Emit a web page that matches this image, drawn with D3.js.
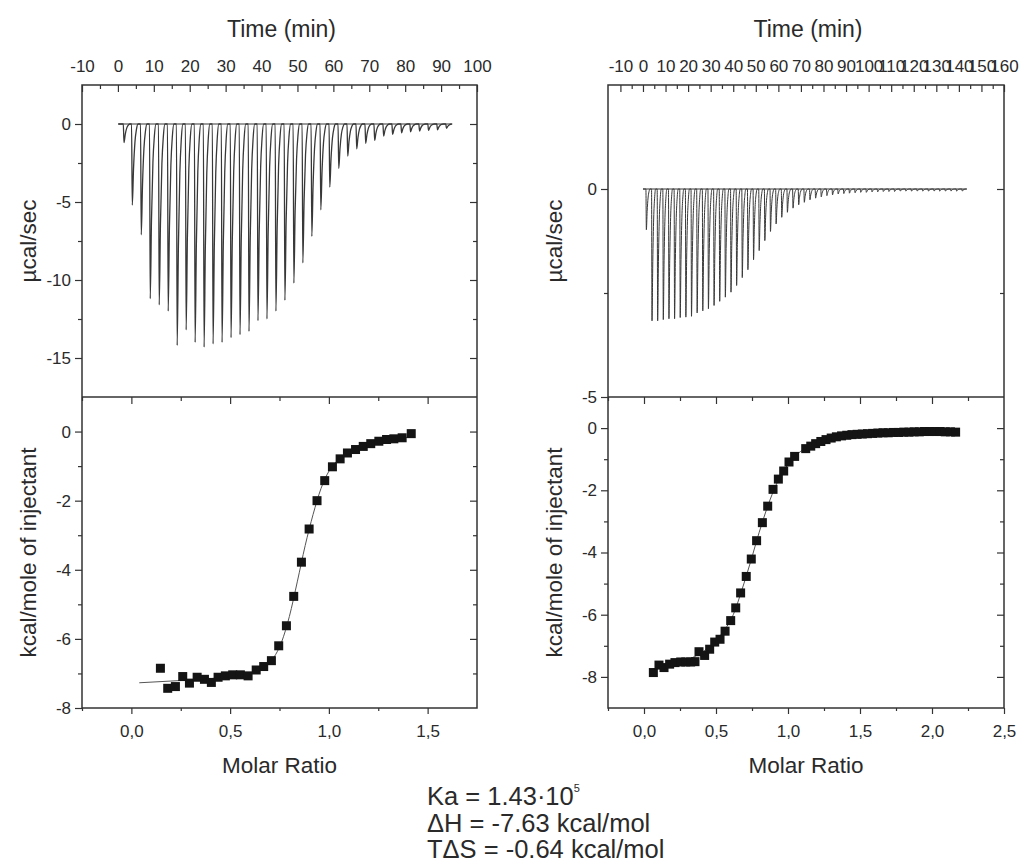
<!doctype html>
<html>
<head>
<meta charset="utf-8" />
<script src="https://d3js.org/d3.v7.min.js"></script>
<style>
  body { margin: 0; background: #fff; }
</style>
</head>
<body>
<div id="chart"></div>
<script>

// ---- left experiment: raw thermogram (injection time, peak depth) ----
var leftInjTime = [1.5, 3.8, 6.3, 8.8, 11.3, 13.8, 16.3, 18.8, 21.3, 23.8, 26.3, 28.8, 31.3, 33.8, 36.3, 38.8,
  41.3, 43.8, 46.3, 48.8, 51.3, 53.8, 56.3, 58.8, 61.3, 63.8, 66.3, 68.8, 71.3, 73.8, 76.3, 78.8, 81.3, 83.8,
  86.3, 88.8, 91.3];
var leftPeak = [-1.2, -5.2, -7.1, -11.2, -11.6, -12.0, -14.2, -13.2, -14.0, -14.3, -14.1, -14.0, -13.7, -13.5,
  -13.3, -12.6, -12.5, -12.0, -11.3, -10.2, -8.9, -7.2, -5.5, -4.05, -2.85, -2.06, -1.59, -1.24, -1.05, -0.77,
  -0.67, -0.56, -0.5, -0.45, -0.41, -0.37, -0.28];
var leftTraceSpan = [0.1, 92.3];

// ---- left experiment: integrated heats ----
var leftRatio = [0.147, 0.184, 0.223, 0.260, 0.294, 0.333, 0.370, 0.405, 0.439, 0.476, 0.513, 0.552, 0.591,
  0.632, 0.670, 0.709, 0.746, 0.785, 0.822, 0.861, 0.900, 0.940, 0.979, 1.018, 1.057, 1.094, 1.135, 1.174,
  1.212, 1.253, 1.292, 1.329, 1.371, 1.417];
var leftHeat = [-6.85, -7.43, -7.38, -7.09, -7.28, -7.11, -7.17, -7.26, -7.11, -7.07, -7.04, -7.04, -7.07,
  -6.90, -6.80, -6.63, -6.20, -5.62, -4.77, -3.78, -2.82, -2.00, -1.42, -1.02, -0.79, -0.62, -0.52, -0.43,
  -0.35, -0.28, -0.23, -0.21, -0.18, -0.06];
var leftFitRatio = [0.04, 0.2, 0.4, 0.55, 0.65, 0.72, 0.76, 0.80, 0.84, 0.88, 0.92, 0.96, 1.0, 1.05, 1.1, 1.2, 1.3, 1.42];
var leftFitHeat = [-7.27, -7.22, -7.15, -7.05, -6.9, -6.55, -6.1, -5.35, -4.35, -3.3, -2.4, -1.65, -1.15, -0.8, -0.6, -0.38, -0.25, -0.15];

// ---- right experiment: raw thermogram ----
var rightInjTime = [1.3, 3.8, 6.3, 8.8, 11.3, 13.8, 16.3, 18.8, 21.3, 23.8, 26.3, 28.8, 31.3, 33.8, 36.3, 38.8,
  41.3, 43.8, 46.3, 48.8, 51.3, 53.8, 56.3, 58.8, 61.3, 63.8, 66.3, 68.8, 71.3, 73.8, 76.3, 78.8, 81.3, 83.8,
  86.3, 88.8, 91.3, 93.8, 96.3, 98.8, 101.3, 103.8, 106.3, 108.8, 111.3, 113.8, 116.3, 118.8, 121.3, 123.8,
  126.3, 128.8, 131.3, 133.8, 136.3, 138.8, 141.3];
var rightPeak = [-0.98, -3.17, -3.17, -3.14, -3.12, -3.12, -3.09, -3.08, -3.06, -2.98, -2.93, -2.88, -2.80,
  -2.70, -2.60, -2.48, -2.32, -2.13, -1.94, -1.70, -1.48, -1.24, -1.02, -0.84, -0.68, -0.56, -0.46, -0.38,
  -0.32, -0.26, -0.22, -0.19, -0.16, -0.14, -0.12, -0.11, -0.10, -0.09, -0.08, -0.08, -0.07, -0.07, -0.06,
  -0.06, -0.06, -0.05, -0.05, -0.05, -0.05, -0.05, -0.05, -0.05, -0.05, -0.05, -0.05, -0.05, -0.05];
var rightTraceSpan = [0.0, 143.5];

// ---- right experiment: integrated heats ----
var rightRatio = [0.065, 0.104, 0.139, 0.178, 0.215, 0.255, 0.290, 0.324, 0.354, 0.382, 0.421, 0.456, 0.491,
  0.528, 0.563, 0.602, 0.637, 0.671, 0.710, 0.745, 0.782, 0.822, 0.859, 0.896, 0.933, 0.970, 1.007, 1.046,
  1.123, 1.158, 1.192, 1.228, 1.264, 1.300, 1.336, 1.372, 1.408, 1.444, 1.480, 1.516, 1.552, 1.588, 1.624,
  1.660, 1.696, 1.732, 1.768, 1.804, 1.840, 1.876, 1.912, 1.948, 1.984, 2.020, 2.056, 2.092, 2.128, 2.164];
var rightHeat = [-7.86, -7.62, -7.70, -7.59, -7.54, -7.52, -7.52, -7.52, -7.51, -7.19, -7.31, -7.11, -6.88,
  -6.79, -6.53, -6.19, -5.78, -5.30, -4.77, -4.21, -3.62, -3.04, -2.51, -1.97, -1.64, -1.38, -1.09, -0.91,
  -0.66, -0.58, -0.50, -0.43, -0.37, -0.32, -0.28, -0.25, -0.23, -0.21, -0.20, -0.19, -0.18, -0.17, -0.16,
  -0.15, -0.15, -0.14, -0.14, -0.13, -0.13, -0.12, -0.12, -0.11, -0.11, -0.11, -0.11, -0.12, -0.12, -0.13];
var rightFitRatio = [0.05, 0.2, 0.35, 0.45, 0.55, 0.62, 0.68, 0.74, 0.8, 0.86, 0.92, 0.98, 1.05, 1.12, 1.2, 1.35, 1.5, 1.7, 1.9, 2.17];
var rightFitHeat = [-7.75, -7.6, -7.35, -7.05, -6.55, -6.0, -5.2, -4.3, -3.35, -2.5, -1.8, -1.3, -0.9, -0.65, -0.48, -0.3, -0.22, -0.16, -0.13, -0.11];

// ---- tick values ----
var leftTimeTicks = [-10, 0, 10, 20, 30, 40, 50, 60, 70, 80, 90, 100];
var rightTimeTicks = [-10, 0, 10, 20, 30, 40, 50, 60, 70, 80, 90, 100, 110, 120, 130, 140, 150, 160];
var leftPowerTicks = [0, -5, -10, -15];
var rightPowerTicks = [0, -5];
var heatTicks = [0, -2, -4, -6, -8];
var leftRatioTicks = [0, 0.5, 1, 1.5];
var rightRatioTicks = [0, 0.5, 1, 1.5, 2, 2.5];

var resultLines = ["\u0394H = -7.63 kcal/mol", "T\u0394S = -0.64 kcal/mol"];

var W = 1019, H = 865;
var yTop = 85, yMid = 397, yBot = 708;
var FONT = "Arial, 'Liberation Sans', sans-serif";
var INK = "#2a2a2a";

// spike outline, relative (minutes after injection, fraction of peak depth)
var spikeShape = [[0, 0], [0.2, 1], [0.55, 0.55], [0.95, 0.22], [1.35, 0.07], [1.8, 0]];

var svg = d3.select("#chart").append("svg").attr("width", W).attr("height", H)
  .attr("font-family", FONT);

function styleAxis(sel, size) {
  sel.select(".domain").remove();
  sel.selectAll("line").attr("stroke", "#333").attr("stroke-width", 1.2);
  sel.selectAll("text").attr("fill", INK).attr("font-size", size || 17).attr("font-family", FONT);
  return sel;
}
function put(axis, x, y) {
  return styleAxis(svg.append("g").attr("transform", "translate(" + x + "," + y + ")").call(axis));
}
function minorOf(major) {
  var out = [];
  for (var i = 0; i < major.length - 1; i++) out.push((major[i] + major[i + 1]) / 2);
  return out;
}

function drawSide(c) {
  var xt = d3.scaleLinear().domain(c.timeDomain).range([c.x0, c.x1]);
  var yp = d3.scaleLinear().domain(c.powerDomain).range([yMid, yTop]);
  var xr = d3.scaleLinear().domain(c.ratioDomain).range([c.x0, c.x1]);
  var yh = d3.scaleLinear().domain(c.heatDomain).range([yBot, yMid]);

  // --- top panel axes
  put(d3.axisTop(xt).tickValues(c.timeTicks).tickSize(-7).tickPadding(13).tickFormat(function (d) { return String(d); }), 0, yTop);
  put(d3.axisTop(xt).tickValues(c.timeMinor).tickSize(-4).tickFormat(""), 0, yTop);
  put(d3.axisLeft(yp).tickValues(c.powerTicks).tickSize(7).tickPadding(4).tickFormat(function (d) { return String(d); }), c.x0, 0);
  put(d3.axisLeft(yp).tickValues(c.powerMinor).tickSize(4).tickFormat(""), c.x0, 0);
  put(d3.axisRight(yp).tickValues(c.powerTicks.filter(function (d) { return d > c.powerDomain[0]; })).tickSize(-7).tickFormat(""), c.x1, 0);
  put(d3.axisRight(yp).tickValues(c.powerMinor).tickSize(-4).tickFormat(""), c.x1, 0);

  // --- bottom panel axes
  put(d3.axisTop(xr).tickValues(c.ratioTicks.filter(function (d) { return d < c.ratioDomain[1]; })).tickSize(-7).tickFormat(""), 0, yMid);
  put(d3.axisTop(xr).tickValues(c.ratioMinor).tickSize(-4).tickFormat(""), 0, yMid);
  put(d3.axisBottom(xr).tickValues(c.ratioTicks).tickSize(6).tickPadding(11)
    .tickFormat(function (d) { return d3.format(".1f")(d).replace(".", ","); }), 0, yBot);
  put(d3.axisBottom(xr).tickValues(c.ratioMinor).tickSize(3).tickFormat(""), 0, yBot);
  put(d3.axisLeft(yh).tickValues(c.heatTicks).tickSize(7).tickPadding(4).tickFormat(function (d) { return String(d); }), c.x0, 0);
  put(d3.axisLeft(yh).tickValues(c.heatMinor).tickSize(4).tickFormat(""), c.x0, 0);
  put(d3.axisRight(yh).tickValues(c.heatTicks.filter(function (d) { return d > c.heatDomain[0]; })).tickSize(-7).tickFormat(""), c.x1, 0);
  put(d3.axisRight(yh).tickValues(c.heatMinor).tickSize(-4).tickFormat(""), c.x1, 0);

  // frames
  svg.append("rect").attr("x", c.x0).attr("y", yTop).attr("width", c.x1 - c.x0).attr("height", yBot - yTop)
    .attr("fill", "none").attr("stroke", "#333").attr("stroke-width", 1.5);
  svg.append("line").attr("x1", c.x0).attr("x2", c.x1).attr("y1", yMid).attr("y2", yMid)
    .attr("stroke", "#333").attr("stroke-width", 1.5);

  // thermogram
  var pts = [[c.traceSpan[0], 0]];
  c.injTime.forEach(function (t, i) {
    spikeShape.forEach(function (s) { pts.push([t + s[0], c.peak[i] * s[1]]); });
  });
  pts.push([c.traceSpan[1], 0]);
  var line = d3.line().x(function (d) { return xt(d[0]); }).y(function (d) { return yp(d[1]); });
  svg.append("path").attr("d", line.curve(d3.curveMonotoneX)(pts))
    .attr("fill", "none").attr("stroke", "#383838").attr("stroke-width", c.traceWidth);
  svg.append("path").attr("d", d3.line().x(function (d) { return xt(d); }).y(yp(0))(c.traceSpan))
    .attr("fill", "none").attr("stroke", "#383838").attr("stroke-width", 1.1);

  // fit curve
  var fit = c.fitRatio.map(function (r, i) { return [r, c.fitHeat[i]]; });
  svg.append("path")
    .attr("d", d3.line().curve(d3.curveMonotoneX).x(function (d) { return xr(d[0]); }).y(function (d) { return yh(d[1]); })(fit))
    .attr("fill", "none").attr("stroke", "#555").attr("stroke-width", 1);

  // integrated heats
  var sq = 9;
  svg.append("g").selectAll("rect").data(c.ratio).enter().append("rect")
    .attr("x", function (d) { return xr(d) - sq / 2; })
    .attr("y", function (d, i) { return yh(c.heat[i]) - sq / 2; })
    .attr("width", sq).attr("height", sq).attr("fill", "#141414");

  // titles
  svg.append("text").attr("x", (c.x0 + c.x1) / 2 + 2).attr("y", 37).attr("text-anchor", "middle")
    .attr("font-size", 23).attr("fill", INK).text("Time (min)");
  svg.append("text").attr("x", (c.x0 + c.x1) / 2).attr("y", 773).attr("text-anchor", "middle")
    .attr("font-size", 22.5).attr("fill", INK).text("Molar Ratio");
  svg.append("text").attr("transform", "translate(" + (c.x0 - 54) + "," + ((yTop + yMid) / 2) + ") rotate(-90)")
    .attr("text-anchor", "middle").attr("dy", "0.35em").attr("font-size", 22.5).attr("fill", INK).text("\u00b5cal/sec");
  svg.append("text").attr("transform", "translate(" + (c.x0 - 54) + "," + ((yMid + yBot) / 2) + ") rotate(-90)")
    .attr("text-anchor", "middle").attr("dy", "0.35em").attr("font-size", 22.5).attr("fill", INK).text("kcal/mole of injectant");
}

drawSide({
  x0: 82, x1: 477,
  timeDomain: [-10, 100], powerDomain: [-17.5, 2.5], ratioDomain: [-0.25, 1.75], heatDomain: [-8, 1],
  timeTicks: leftTimeTicks, timeMinor: minorOf(leftTimeTicks),
  powerTicks: leftPowerTicks, powerMinor: [-2.5, -7.5, -12.5],
  ratioTicks: leftRatioTicks, ratioMinor: [-0.25, 0.25, 0.75, 1.25],
  heatTicks: heatTicks, heatMinor: [-1, -3, -5, -7],
  injTime: leftInjTime, peak: leftPeak, traceSpan: leftTraceSpan, traceWidth: 1.3,
  ratio: leftRatio, heat: leftHeat, fitRatio: leftFitRatio, fitHeat: leftFitHeat
});

drawSide({
  x0: 608, x1: 1004,
  timeDomain: [-15.5, 160], powerDomain: [-5, 2.5], ratioDomain: [-0.25, 2.5], heatDomain: [-9, 1],
  timeTicks: rightTimeTicks, timeMinor: minorOf(rightTimeTicks),
  powerTicks: rightPowerTicks, powerMinor: [-2.5],
  ratioTicks: rightRatioTicks, ratioMinor: [-0.25, 0.25, 0.75, 1.25, 1.75, 2.25],
  heatTicks: heatTicks, heatMinor: [-1, -3, -5, -7],
  injTime: rightInjTime, peak: rightPeak, traceSpan: rightTraceSpan, traceWidth: 1,
  ratio: rightRatio, heat: rightHeat, fitRatio: rightFitRatio, fitHeat: rightFitHeat
});

// fitted parameters
var ka = svg.append("text").attr("x", 427).attr("y", 805).attr("font-size", 25.5).attr("fill", INK);
ka.append("tspan").text("Ka = 1.43\u00b710");
ka.append("tspan").attr("font-size", 11).attr("dy", -13).text("5");
svg.selectAll("text.res").data(resultLines).enter().append("text").attr("class", "res")
  .attr("x", 427).attr("y", function (d, i) { return 832 + i * 26; })
  .attr("font-size", 25.5).attr("fill", INK).text(function (d) { return d; });

</script>
</body>
</html>
